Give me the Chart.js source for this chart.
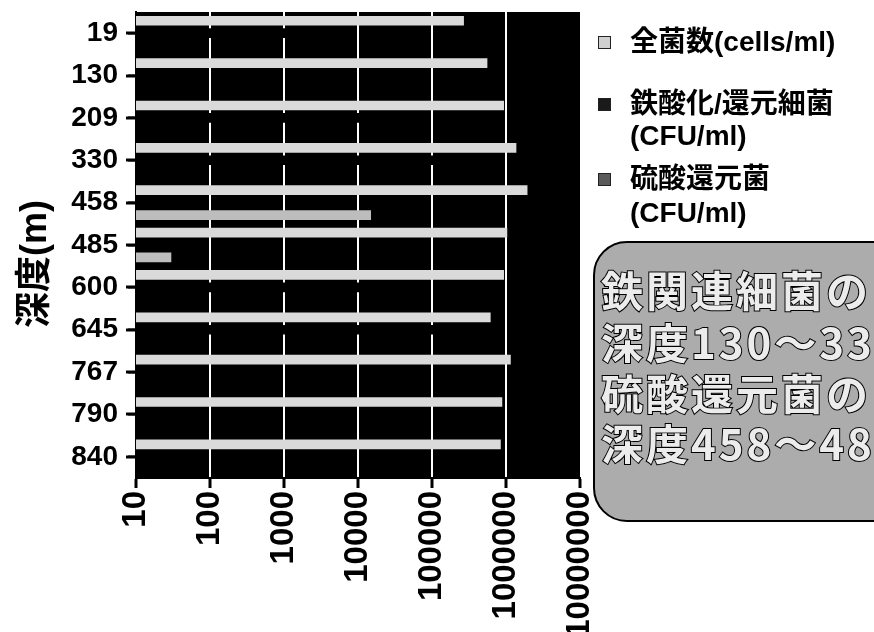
<!DOCTYPE html>
<html>
<head>
<meta charset="utf-8">
<script src="https://cdn.jsdelivr.net/npm/chart.js@4.4.1/dist/chart.umd.min.js"></script>
<style>
  html, body { margin: 0; padding: 0; background: #fff; }
  #wrap { position: relative; width: 874px; height: 632px; overflow: hidden; background: #fff; }
  #chart { position: absolute; left: 0; top: 0; }
  #axis-title {
    position: absolute; left: 30px; top: 264px; white-space: nowrap;
    transform: translate(-50%, -50%) rotate(-90deg);
    font-family: 'Liberation Sans', 'Noto Sans CJK JP', sans-serif; font-weight: bold; font-size: 36px; color: #000;
  }
  .legend-line {
    position: absolute; left: 630px; height: 36px; line-height: 36px; white-space: nowrap;
    font-family: 'Liberation Sans', 'Noto Sans CJK JP', sans-serif; font-weight: bold; font-size: 28px; color: #000;
  }
  .legend-box { position: absolute; left: 598px; width: 11px; height: 11px; border: 1px solid #222; }
  #note {
    position: absolute; left: 593px; top: 241px; width: 420px; height: 277px;
    border: 2px solid #000; border-radius: 34px; background: #acacac;
  }
  .note-line {
    position: absolute; left: 601px; height: 50px; line-height: 50px; white-space: nowrap;
    font-family: 'Noto Sans CJK JP', sans-serif; font-weight: bold; font-size: 42px; letter-spacing: 3px;
    color: #ececec; -webkit-text-stroke: 2px #000; paint-order: stroke fill;
  }
</style>
</head>
<body>
<div id="wrap">
  <canvas id="chart" width="874" height="632"></canvas>
  <div id="note"></div>
</div>
<script>
// Depth of each sampling point (m)
const depthLabels = ['19', '130', '209', '330', '458', '485', '600', '645', '767', '790', '840'];
// Total cell count (cells/ml)
const totalCells = [270000, 560000, 940000, 1380000, 1950000, 1040000, 940000, 620000, 1160000, 890000, 850000];
// Iron-oxidizing / iron-reducing bacteria (CFU/ml)
const ironBacteria = [6000, null, 35000, 300000, null, null, 30000, 300000, null, null, null];
// Sulfate-reducing bacteria (CFU/ml)
const sulfateReducers = [null, null, null, null, 15000, 30, null, null, null, null, null];
// Decade ticks on the count axis
const xTickValues = [10, 100, 1000, 10000, 100000, 1000000, 10000000];
// Axis title
const depthTitle = '深度(m)';
// Legend entries, one array of lines per series
const legendLines = [['全菌数(cells/ml)'], ['鉄酸化/還元細菌', '(CFU/ml)'], ['硫酸還元菌', '(CFU/ml)']];
// Callout text
const noteLines = ['鉄関連細菌の', '深度130～330m', '硫酸還元菌の', '深度458～485m'];

const seriesColors = ['#dadada', '#000000', '#bdbdbd'];
const legendSwatch = ['#d0d0d0', '#1a1a1a', '#5a5a5a'];

const latinFont = "'Liberation Sans', 'Noto Sans CJK JP', Arial, sans-serif";

// paints the plotting area black before grid lines and bars are drawn
const plotBackground = {
  id: 'plotBackground',
  beforeDraw(chart) {
    const { ctx, chartArea: a } = chart;
    ctx.save();
    ctx.fillStyle = '#000';
    ctx.fillRect(a.left, a.top, a.right - a.left, a.bottom - a.top);
    ctx.restore();
  }
};

// short tick marks on the depth axis, one at each category centre
const depthTicks = {
  id: 'depthTicks',
  afterDraw(chart) {
    const ctx = chart.ctx;
    const y = chart.scales.y;
    const left = chart.chartArea.left;
    ctx.save();
    ctx.fillStyle = '#000';
    y.ticks.forEach((t, i) => {
      const py = Math.round(y.getPixelForTick(i));
      ctx.fillRect(left - 10, py - 1.5, 10, 3);
    });
    ctx.restore();
  }
};

const chart = new Chart(document.getElementById('chart'), {
  type: 'bar',
  data: {
    labels: depthLabels,
    datasets: [
      { label: legendLines[0].join(' '), data: totalCells, backgroundColor: seriesColors[0] },
      { label: legendLines[1].join(' '), data: ironBacteria, backgroundColor: seriesColors[1] },
      { label: legendLines[2].join(' '), data: sulfateReducers, backgroundColor: seriesColors[2] }
    ]
  },
  options: {
    indexAxis: 'y',
    responsive: false,
    animation: false,
    devicePixelRatio: 1,
    layout: { padding: { top: 12, right: 294, left: 0, bottom: 0 } },
    datasets: { bar: { categoryPercentage: 0.88, barPercentage: 0.78, borderWidth: 0 } },
    plugins: { legend: { display: false }, tooltip: { enabled: false } },
    scales: {
      x: {
        type: 'logarithmic',
        min: 10,
        max: 10000000,
        afterBuildTicks: (s) => { s.ticks = xTickValues.map(v => ({ value: v })); },
        afterFit: (s) => { s.height = 154; s.paddingLeft = 0; s.paddingRight = 0; },
        ticks: {
          autoSkip: false, maxRotation: 90, minRotation: 90, padding: 3, color: '#000',
          font: { family: latinFont, size: 33, weight: 'bold' },
          callback: (v) => String(v)
        },
        grid: {
          color: (c) => (c.tick && (c.tick.value === 10 || c.tick.value === 10000000)) ? 'rgba(0,0,0,0)' : '#fff',
          lineWidth: 2, drawTicks: true, tickLength: 10, tickColor: '#000', tickWidth: 3
        },
        border: { display: true, color: '#000', width: 2 }
      },
      y: {
        afterFit: (s) => { s.width = 136; s.paddingTop = 0; s.paddingBottom = 0; },
        ticks: { padding: 10, color: '#000', font: { family: latinFont, size: 28, weight: 'bold' } },
        grid: { offset: false, drawOnChartArea: false, drawTicks: true, tickLength: 8, tickColor: '#000', tickWidth: 2, color: '#000' },
        border: { display: true, color: '#000', width: 2 }
      }
    }
  },
  plugins: [plotBackground, depthTicks]
});

const wrap = document.getElementById('wrap');

// depth axis title
const title = document.createElement('div');
title.id = 'axis-title';
title.textContent = depthTitle;
wrap.appendChild(title);

// HTML legend built from the series names
const legendCenters = [[42], [104, 136], [179, 213]];
legendLines.forEach((lines, i) => {
  const box = document.createElement('div');
  box.className = 'legend-box';
  box.style.top = (legendCenters[i][0] - 6) + 'px';
  box.style.background = legendSwatch[i];
  wrap.appendChild(box);
  lines.forEach((t, j) => {
    const d = document.createElement('div');
    d.className = 'legend-line';
    d.style.top = (legendCenters[i][j] - 18) + 'px';
    d.textContent = t;
    wrap.appendChild(d);
  });
});

// callout text
const noteCenters = [289, 341, 392, 442];
noteLines.forEach((t, i) => {
  const d = document.createElement('div');
  d.className = 'note-line';
  d.style.top = (noteCenters[i] - 25) + 'px';
  d.textContent = t;
  wrap.appendChild(d);
});
</script>
</body>
</html>
